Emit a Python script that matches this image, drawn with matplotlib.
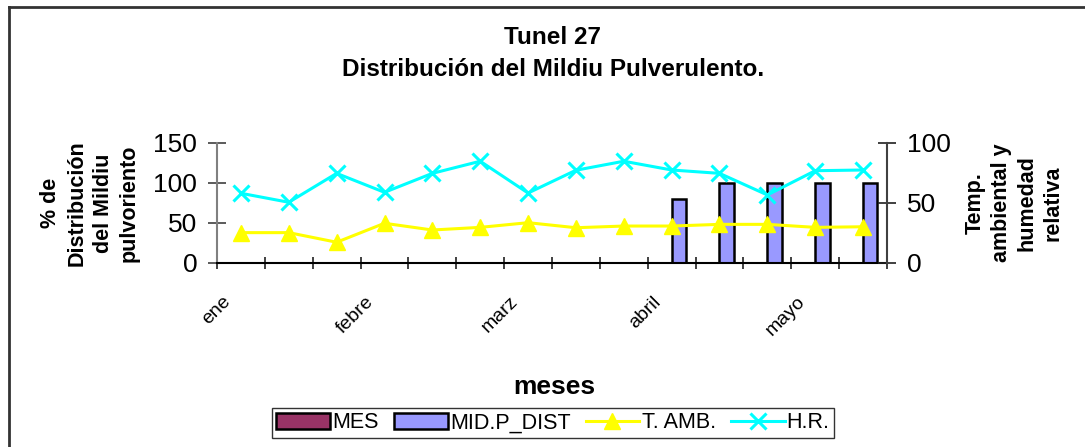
import matplotlib
matplotlib.use("Agg")
import matplotlib.pyplot as plt
import matplotlib.transforms as mtransforms
from matplotlib.lines import Line2D
import numpy as np

plt.rcParams['font.family'] = ['Liberation Sans', 'DejaVu Sans']

# ---- data ----
n_points = 14
tick_labels = ["ene", "", "", "febre", "", "", "marz", "", "", "abril", "", "", "mayo", ""]
mes = [0] * 14
mid_p_dist = [np.nan] * 9 + [80, 100, 100, 100, 100]
t_amb = [25.3, 25.3, 17.3, 33.1, 27.5, 29.7, 33.6, 29.4, 30.8, 30.8, 32.2, 32.2, 29.7, 30.2]
h_r = [58.1, 50.6, 74.7, 58.9, 74.7, 84.8, 58.3, 77.3, 84.8, 77.5, 74.7, 56.7, 76.9, 77.5]

W, H = 1085, 447
fig = plt.figure(figsize=(W / 100, H / 100), dpi=100)
fig.patch.set_facecolor("white")

left, right, top, bottom = 217, 887, 143, 263
ax = fig.add_axes([left / W, 1 - bottom / H, (right - left) / W, (bottom - top) / H])
ax2 = ax.twinx()

x = np.arange(n_points)
bw = 0.30
ax.bar(x - bw / 2, mes, width=bw, color="#993366", edgecolor="black", linewidth=1.8, label="MES", zorder=2)
ax.bar(x + bw / 2, mid_p_dist, width=bw, color="#9999FF", edgecolor="black", linewidth=1.8, label="MID.P_DIST", zorder=2)
ax.set_ylim(0, 150)
ax.set_xlim(-0.5, n_points - 0.5)
ax.set_yticks([0, 50, 100, 150])

ax2.plot(x, t_amb, color="#FFFF00", lw=2.2, marker="^", ms=11, mfc="#FFFF00", mec="#FFFF00", label="T. AMB.", zorder=3)
ax2.plot(x, h_r, color="#00FFFF", lw=2.2, marker="x", ms=11, mew=2.2, label="H.R.", zorder=3)
ax2.set_ylim(0, 100)
ax2.set_yticks([0, 50, 100])

for a in (ax, ax2):
    a.spines["top"].set_visible(False)
    a.patch.set_visible(False)
ax.spines["right"].set_visible(False)
ax2.spines["left"].set_visible(False)
ax2.spines["bottom"].set_visible(False)
ax.spines["left"].set_color("#808080")
ax.spines["left"].set_linewidth(1.5)
ax2.spines["right"].set_color("#404040")
ax2.spines["right"].set_linewidth(1.5)
ax.spines["bottom"].set_color("black")
ax.spines["bottom"].set_linewidth(1.5)

ax.tick_params(axis="y", direction="inout", length=12.5, width=1.2, color="#404040", labelsize=19, pad=8)
ax2.tick_params(axis="y", direction="inout", length=12.5, width=1.2, color="#202020", labelsize=19, pad=8)

# x: boundary ticks as minor, labels at category centers
ax.set_xticks(np.arange(-0.5, n_points, 1.0), minor=True)
ax.set_xticks(x)
ax.set_xticklabels(tick_labels, rotation=45, ha="right", va="top", fontsize=14)
ax.tick_params(axis="x", which="major", length=0, pad=0)
ax.tick_params(axis="x", which="minor", direction="inout", length=9, width=1.2, color="#202020")
offset = mtransforms.ScaledTranslation(-7 / 100, -30 / 100, fig.dpi_scale_trans)
for lab in ax.get_xticklabels():
    lab.set_transform(lab.get_transform() + offset)

# axis labels
fig.text(554 / W, 1 - 387 / H, "meses", ha="center", va="center", fontsize=19, fontweight="bold")
fig.text(90 / W, 1 - 203 / H, "% de\nDistribución\ndel Mildiu\npulvoriento", ha="center", va="center",
         rotation=90, fontsize=15.5, fontweight="bold", linespacing=1.33)
fig.text(1014 / W, 1 - 203 / H, "Temp.\nambiental y\nhumedad\nrelativa", ha="center", va="center",
         rotation=90, fontsize=15.5, fontweight="bold", linespacing=1.3)

# title
fig.text(553 / W, 1 - 38 / H, "Tunel 27", ha="center", va="center", fontsize=17.5, fontweight="bold")
fig.text(553 / W, 1 - 70 / H, "Distribución del Mildiu Pulverulento.", ha="center", va="center",
         fontsize=17.5, fontweight="bold")

# legend
h1, l1 = ax.get_legend_handles_labels()
h2, l2 = ax2.get_legend_handles_labels()
leg = fig.legend(h1 + h2, l1 + l2, loc="center", bbox_to_anchor=(553 / W, 1 - 423 / H), ncol=4,
                 fontsize=15.5, frameon=True, fancybox=False, handlelength=2.5, handletextpad=0.1,
                 columnspacing=0.7, borderpad=0.2, borderaxespad=0)
leg.get_frame().set_edgecolor("black")
leg.get_frame().set_linewidth(1.0)

# outer chart frame (extends beyond image)
fig.add_artist(Line2D([8.5 / W, 8.5 / W], [1 - 7 / H, -0.1], transform=fig.transFigure, color="#333333", lw=2))
fig.add_artist(Line2D([8.5 / W, 1.1], [1 - 7 / H, 1 - 7 / H], transform=fig.transFigure, color="#333333", lw=2))

fig.savefig("out.png", dpi=100)
